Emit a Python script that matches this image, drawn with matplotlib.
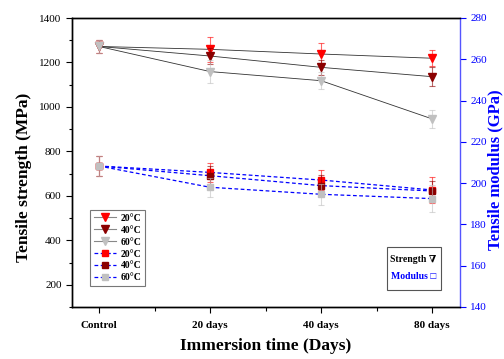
import matplotlib
matplotlib.use("Agg")
import matplotlib.pyplot as plt
from matplotlib.lines import Line2D
from matplotlib.patches import Rectangle
from matplotlib.ticker import MultipleLocator, FixedLocator
import numpy as np

plt.rcParams['font.family'] = ['Liberation Serif', 'DejaVu Serif']

categories = ["Control", "20 days", "40 days", "80 days"]
temps = ["20°C", "40°C", "60°C"]

strength_20 = [1272, 1259, 1238, 1219]
strength_40 = [1272, 1229, 1178, 1136]
strength_60 = [1272, 1159, 1118, 946]
strength_err_20 = [30, 55, 48, 37]
strength_err_40 = [30, 35, 35, 42]
strength_err_60 = [30, 50, 38, 40]

modulus_20 = [208.3, 205.2, 201.5, 196.7]
modulus_40 = [208.3, 203.6, 198.8, 196.2]
modulus_60 = [208.3, 198.0, 194.6, 192.5]
modulus_err_20 = [5, 4.5, 5, 6.5]
modulus_err_40 = [5, 4.5, 5, 5]
modulus_err_60 = [5, 4.5, 5, 6.5]

colors = ["#ff0000", "#8b0000", "#c0c0c0"]

fig = plt.figure(figsize=(5.04, 3.59), dpi=100)
ax = fig.add_axes([72/504, 1-307/359, (460-72)/504, (307-18)/359])
ax2 = ax.twinx()

x = np.arange(len(categories))

strengths = [strength_20, strength_40, strength_60]
s_errs = [strength_err_20, strength_err_40, strength_err_60]
moduli = [modulus_20, modulus_40, modulus_60]
m_errs = [modulus_err_20, modulus_err_40, modulus_err_60]

line_col = "#333333"
for vals in strengths:
    ax.plot(x, vals, color=line_col, lw=0.6, zorder=2)
for i, (vals, errs, c) in enumerate(zip(strengths, s_errs, colors)):
    ax.errorbar(x, vals, yerr=errs, fmt='none', ecolor=c, elinewidth=0.8,
                capsize=2.5, capthick=0.8, alpha=0.6, zorder=3 + i)
    ax.plot(x, vals, 'v', color=c, ms=6, zorder=3 + i)

for vals in moduli:
    ax2.plot(x, vals, color="#0000ff", lw=0.9, ls=(0, (3, 2)), zorder=2)
for i, (vals, errs, c) in enumerate(zip(moduli, m_errs, colors)):
    ax2.errorbar(x, vals, yerr=errs, fmt='none', ecolor=c, elinewidth=0.8,
                 capsize=2.5, capthick=0.8, alpha=0.6, zorder=3 + i)
    ax2.plot(x, vals, 's', color=c, ms=5, zorder=3 + i)

ax.set_xlim(-0.243, 3.25)
ax.set_ylim(100, 1400)
ax2.set_ylim(140, 280)

ax.set_xticks(x)
ax.set_xticklabels(categories, fontweight='bold', fontsize=8)
ax.xaxis.set_minor_locator(FixedLocator([0.5, 1.5, 2.5]))
ax.yaxis.set_major_locator(FixedLocator([200, 400, 600, 800, 1000, 1200, 1400]))
ax.yaxis.set_minor_locator(MultipleLocator(100))
ax.tick_params(axis='y', labelsize=8, length=4, width=0.8)
ax.tick_params(axis='y', which='minor', length=2.5, width=0.8)
ax.tick_params(axis='x', length=4, width=0.8, pad=6)
ax.tick_params(axis='x', which='minor', length=3, width=0.8)

ax2.yaxis.set_major_locator(MultipleLocator(20))
ax2.tick_params(axis='y', colors='#0000ff', labelsize=8, length=4, width=0.8)

for s in ['left', 'bottom', 'top']:
    ax.spines[s].set_linewidth(1.0)
    ax2.spines[s].set_linewidth(1.0)
ax2.spines['right'].set_color('#5555ff')
ax2.spines['right'].set_linewidth(1.0)
ax.spines['right'].set_visible(False)

ax.set_xlabel("Immersion time (Days)", fontsize=12.5, fontweight='bold', labelpad=6)
ax.set_ylabel("Tensile strength (MPa)", fontsize=12.5, fontweight='bold')
ax.yaxis.set_label_coords(-0.103, 0.448)
ax2.set_ylabel("Tensile modulus (GPa)", fontsize=12, fontweight='bold', color='#0000ff',
               rotation=90, va='center')
ax2.yaxis.set_label_coords(1.09, 0.474)

handles = []
for t, c in zip(temps, colors):
    handles.append(Line2D([], [], color='#888888', lw=0.8, marker='v', mfc=c, mec=c, ms=6, label=t))
for t, c in zip(temps, colors):
    handles.append(Line2D([], [], color='#0000ff', lw=0.9, ls=(0, (3, 2)), marker='s', mfc=c, mec=c, ms=5, label=t))
leg = ax2.legend(handles=handles, loc='lower left', bbox_to_anchor=(0.035, 0.055),
                 prop={'weight': 'bold', 'size': 7}, frameon=True, fancybox=False,
                 edgecolor='#555555', handlelength=2.2, labelspacing=0.3,
                 borderpad=0.4, handletextpad=0.5)
leg.get_frame().set_linewidth(0.8)

ax2.text(0.94, 0.165, "Strength \u2207", transform=ax2.transAxes, ha='right', va='center',
         fontsize=7, fontweight='bold', color='black', zorder=5)
ax2.text(0.94, 0.105, "Modulus \u25a1", transform=ax2.transAxes, ha='right', va='center',
         fontsize=7, fontweight='bold', color='#0000ff', zorder=5)
ax2.add_patch(Rectangle((0.812, 0.058), 0.14, 0.15, transform=ax2.transAxes,
                        fill=False, edgecolor='#555555', lw=0.8, zorder=5))

fig.savefig("out.png", dpi=100)
